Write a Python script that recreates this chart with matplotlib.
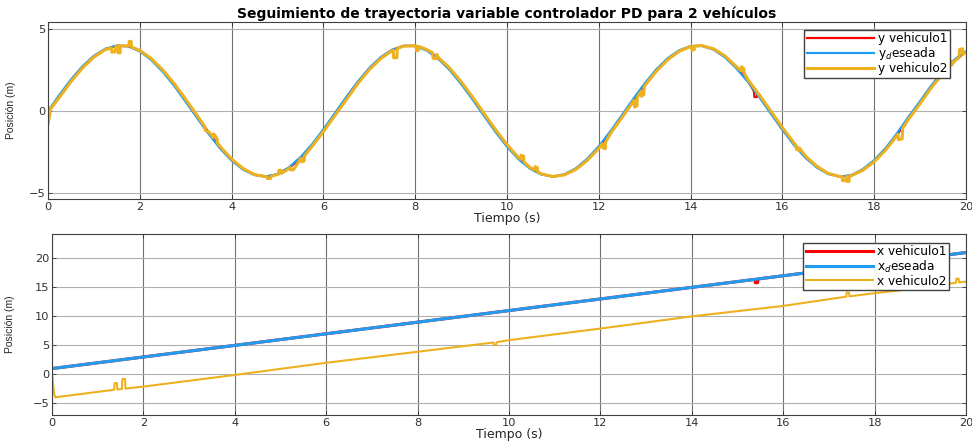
import numpy as np
import matplotlib
matplotlib.use("Agg")
import matplotlib.pyplot as plt

# ---------------- datos: posición en y ----------------
t_y = np.linspace(0, 20, 81)

y_deseada = [0.00, 0.99, 1.92, 2.73, 3.37, 3.80, 3.99, 3.94, 3.64, 3.11,
             2.39, 1.53, 0.56, -0.43, -1.40, -2.29, -3.03, -3.58, -3.91, -4.00,
             -3.84, -3.44, -2.82, -2.04, -1.12, -0.13, 0.86, 1.80, 2.63, 3.29,
             3.75, 3.98, 3.96, 3.69, 3.19, 2.50, 1.65, 0.70, -0.30, -1.28,
             -2.18, -2.94, -3.52, -3.88, -4.00, -3.86, -3.50, -2.91, -2.15, -1.25,
             -0.27, 0.73, 1.68, 2.53, 3.22, 3.70, 3.96, 3.97, 3.74, 3.27,
             2.60, 1.77, 0.83, -0.17, -1.15, -2.07, -2.85, -3.45, -3.85, -4.00,
             -3.92, -3.55, -3.00, -2.26, -1.35, -0.35, 0.60, 1.58, 2.42, 3.14,
             3.65]

y_vehiculo1 = [-0.10, 0.89, 1.84, 2.66, 3.32, 3.77, 3.98, 3.96, 3.68, 3.17,
               2.47, 1.62, 0.66, -0.33, -1.31, -2.21, -2.96, -3.54, -3.89, -4.00,
               -3.87, -3.49, -2.89, -2.13, -1.22, -0.23, 0.76, 1.71, 2.56, 3.23,
               3.72, 3.97, 3.97, 3.73, 3.25, 2.58, 1.74, 0.80, -0.20, -1.19,
               -2.10, -2.87, -3.47, -3.86, -4.00, -3.89, -3.55, -2.98, -2.23, -1.34,
               -0.37, 0.63, 1.59, 2.45, 3.16, 3.66, 3.95, 3.98, 3.78, 3.33,
               2.68, 1.86, 0.93, -0.07, -1.05, -1.98, -2.78, -3.40, -3.82, -4.00,
               -3.94, -3.60, -3.07, -2.34, -1.45, -0.45, 0.50, 1.49, 2.34, 3.08,
               3.61]

y_vehiculo2 = [-0.80, 0.84, 1.79, 2.62, 3.29, 3.75, 3.98, 3.97, 3.70, 3.20,
               2.51, 1.67, 0.71, -0.28, -1.26, -2.17, -2.93, -3.51, -3.88, -4.01,
               -3.88, -3.52, -2.93, -2.17, -1.26, -0.28, 0.71, 1.67, 2.52, 3.20,
               3.70, 3.96, 3.98, 3.75, 3.28, 2.62, 1.79, 0.85, -0.15, -1.14,
               -2.05, -2.84, -3.45, -3.84, -4.00, -3.90, -3.57, -3.01, -2.28, -1.39,
               -0.42, 0.58, 1.54, 2.41, 3.13, 3.64, 3.94, 3.99, 3.79, 3.36,
               2.71, 1.90, 0.98, -0.02, -1.01, -1.94, -2.74, -3.37, -3.81, -4.00,
               -3.95, -3.62, -3.10, -2.38, -1.49, -0.50, 0.45, 1.44, 2.30, 3.05,
               3.59]

# saltos puntuales del vehículo 1 (y)
t_saltos_y1 = [15.38, 15.39, 15.44, 15.45]
y_saltos_y1 = [1.20, 0.85, 0.85, 1.00]

# saltos puntuales del vehículo 2 (y)
t_saltos_y2 = [0.06,
               1.38, 1.39, 1.46, 1.47, 1.52, 1.53, 1.57, 1.58,
               1.76, 1.77, 1.81, 1.82,
               3.42, 3.43, 3.60, 3.61, 3.68, 3.69,
               4.77, 4.78, 4.85, 4.86,
               5.02, 5.03, 5.08, 5.09,
               5.28, 5.29, 5.35,
               5.52, 5.53, 5.58, 5.59,
               7.52, 7.53, 7.60, 7.61,
               8.02, 8.03, 8.07, 8.08,
               8.38, 8.39, 8.46, 8.47,
               10.30, 10.31, 10.36, 10.37,
               10.60, 10.61, 10.66, 10.67,
               12.08, 12.09, 12.14, 12.15,
               12.77, 12.78, 12.83, 12.84,
               12.92, 12.93, 12.98, 12.99,
               14.02, 14.03, 14.08, 14.09,
               15.10, 15.11, 15.16, 15.17,
               16.30, 16.31, 16.36, 16.37,
               17.30, 17.31, 17.38, 17.39, 17.40, 17.41, 17.45, 17.46,
               18.52, 18.53, 18.61, 18.62,
               19.62, 19.63, 19.68, 19.69,
               19.85, 19.86, 19.92, 19.93]
y_saltos_y2 = [0.15,
               3.85, 3.60, 3.60, 3.90, 3.95, 3.55, 3.55, 3.98,
               3.97, 4.25, 4.25, 3.90,
               -0.97, -1.20, -1.62, -1.40, -1.66, -1.95,
               -4.00, -4.12, -4.12, -3.98,
               -3.85, -3.62, -3.62, -3.80,
               -3.45, -3.60, -3.58,
               -2.88, -3.10, -3.05, -2.72,
               3.72, 3.25, 3.25, 3.82,
               3.97, 3.68, 3.70, 3.94,
               3.55, 3.22, 3.18, 3.45,
               -2.95, -2.70, -2.75, -3.10,
               -3.60, -3.40, -3.45, -3.72,
               -2.00, -2.25, -2.30, -1.90,
               0.66, 0.25, 0.30, 0.85,
               1.20, 0.90, 1.00, 1.50,
               3.96, 3.72, 3.74, 3.97,
               2.45, 2.70, 2.58, 2.30,
               -2.12, -2.35, -2.40, -2.25,
               -4.00, -4.25, -4.25, -4.00, -3.99, -4.30, -4.30, -3.97,
               -1.42, -1.75, -1.70, -1.05,
               2.65, 3.00, 3.05, 2.80,
               3.25, 3.75, 3.80, 3.45]

# ---------------- datos: posición en x ----------------
t_x_deseada = [0, 20]
x_deseada = [1, 21]

t_x1 = [0, 15.38, 15.39, 15.44, 15.45, 20]
x_vehiculo1 = [1, 16.38, 15.80, 15.80, 16.45, 21]

t_x2 = [0, 0.02, 0.05, 0.08, 0.12, 1.36, 1.37, 1.42, 1.43, 1.53, 1.54, 1.60, 1.61,
        2, 4, 6, 8, 9.66, 9.67, 9.72, 9.73, 10, 12, 14, 16, 17.38, 17.39, 17.44,
        17.45, 18, 18.58, 18.59, 18.64, 18.65, 19.78, 19.79, 19.84, 19.85, 20]
x_vehiculo2 = [0.6, -1.5, -3.5, -4.0, -3.9, -2.65, -1.5, -1.5, -2.6, -2.52, -0.8, -0.8,
               -2.45, -2.1, -0.1, 2.0, 3.9, 5.5, 5.1, 5.1, 5.55, 5.9, 7.9, 10.0, 11.8,
               13.4, 14.1, 14.1, 13.45, 14.0, 14.5, 15.2, 15.2, 14.55, 15.8, 16.5,
               16.5, 15.85, 16.0]

x_ticks = list(range(0, 21, 2))

ROJO = "#ff0000"
AZUL = "#1f9cf0"
AMARILLO = "#edb120"


def fusionar(t_base, v_base, t_extra, v_extra):
    t = np.concatenate([np.asarray(t_base, float), np.asarray(t_extra, float)])
    v = np.concatenate([np.asarray(v_base, float), np.asarray(v_extra, float)])
    orden = np.argsort(t, kind="stable")
    return t[orden], v[orden]


def estilo(ax, yticks, ylim):
    ax.set_xlim(0, 20)
    ax.set_ylim(*ylim)
    ax.set_xticks(x_ticks)
    ax.set_yticks(yticks)
    ax.tick_params(direction="in", length=3, width=0.6, labelsize=8.2,
                   colors="#303030", pad=2, top=True, right=True)
    for s in ax.spines.values():
        s.set_color("#404040")
        s.set_linewidth(0.8)
    ax.set_axisbelow(True)
    ax.xaxis.grid(True, color="#707070", linewidth=0.8)
    ax.yaxis.grid(True, color="#b0b0b0", linewidth=0.8)
    ax.set_xlabel("Tiempo (s)", fontsize=9, color="#262626", labelpad=0)
    ax.set_ylabel("Posición (m)", fontsize=7.5, family="Liberation Sans", color="#262626")


def leyenda(ax, anchor):
    ax.legend(loc="upper right", bbox_to_anchor=anchor, borderaxespad=0,
              fontsize=8.7, handlelength=5.6, labelspacing=0.0, borderpad=0.2,
              handletextpad=0.3, fancybox=False, framealpha=1, edgecolor="#404040")


fig = plt.figure(figsize=(9.72, 4.42), dpi=100)
ax1 = fig.add_axes([0.0494, 0.5498, 0.9444, 0.4004])
ax2 = fig.add_axes([0.0535, 0.0611, 0.9403, 0.4095])

# --- trayectoria en y ---
t1, v1 = fusionar(t_y, y_vehiculo1, t_saltos_y1, y_saltos_y1)
t2, v2 = fusionar(t_y, y_vehiculo2, t_saltos_y2, y_saltos_y2)
ax1.plot(t1, v1, color=ROJO, lw=1.6, label="y vehiculo1")
ax1.plot(t_y, y_deseada, color=AZUL, lw=1.6, label="y$_d$eseada")
ax1.plot(t2, v2, color=AMARILLO, lw=2.2, label="y vehiculo2")
estilo(ax1, [-5, 0, 5], (-5.37, 5.43))
ax1.yaxis.set_label_coords(-0.0354, 0.5)
ax1.set_title("Seguimiento de trayectoria variable controlador PD para 2 vehículos",
              fontsize=10, fontweight="bold", pad=3)
leyenda(ax1, (0.9826, 0.9548))

# --- trayectoria en x ---
ax2.plot(t_x1, x_vehiculo1, color=ROJO, lw=2.2, label="x vehiculo1")
ax2.plot(t_x_deseada, x_deseada, color=AZUL, lw=2.2, label="x$_d$eseada")
ax2.plot(t_x2, x_vehiculo2, color=AMARILLO, lw=1.5, label="x vehiculo2")
estilo(ax2, [-5, 0, 5, 10, 15, 20], (-7.0, 24.2))
ax2.yaxis.set_label_coords(-0.040, 0.5)
leyenda(ax2, (0.9814, 0.950))

fig.savefig("out.png", dpi=100)
